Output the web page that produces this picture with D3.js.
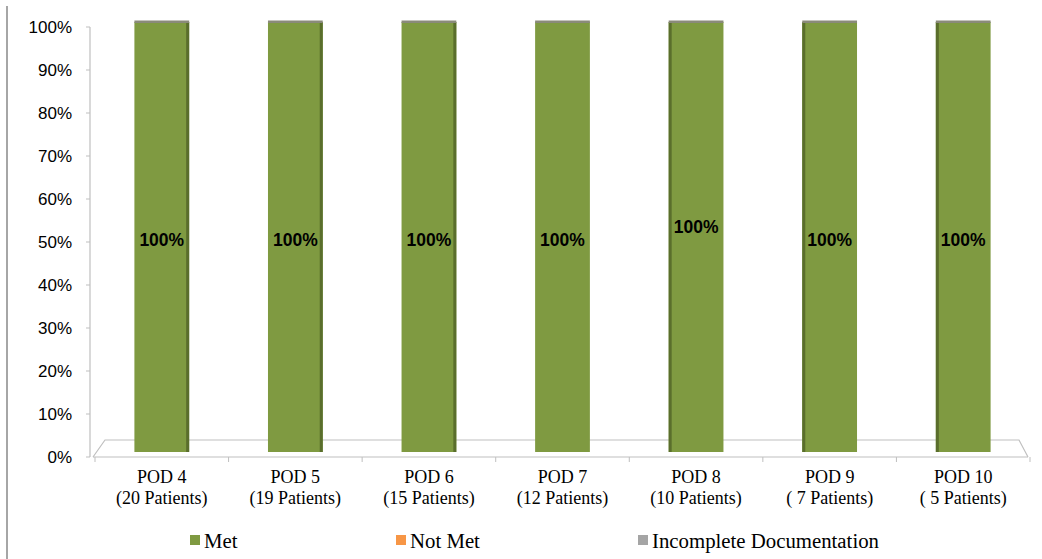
<!DOCTYPE html>
<html><head><meta charset="utf-8">
<script src="https://cdn.jsdelivr.net/npm/d3@7"></script>
<style>body{margin:0;background:#fff}svg{display:block}</style>
</head><body>
<svg id="c" width="1042" height="559"></svg>
<script>
const categories = ["POD 4","POD 5","POD 6","POD 7","POD 8","POD 9","POD 10"];
const patients = ["(20 Patients)","(19 Patients)","(15 Patients)","(12 Patients)","(10 Patients)","( 7 Patients)","( 5 Patients)"];
const met = [100,100,100,100,100,100,100];
const notMet = [0,0,0,0,0,0,0];
const incomplete = [0,0,0,0,0,0,0];
const yTicks = [0,10,20,30,40,50,60,70,80,90,100];
const seriesNames = ["Met","Not Met","Incomplete Documentation"];
const seriesColors = ["#7f9a41","#f79646","#a5a5a5"];

const svg = d3.select("#c");
const x = d3.scaleBand().domain(categories).range([95,1030]).paddingInner(0.59).paddingOuter(0.295);
const y = d3.scaleLinear().domain([0,100]).range([457,27]);
const depth = 5;

// page border line
svg.append("line").attr("x1",7).attr("x2",7).attr("y1",6).attr("y2",559).attr("stroke","#888").attr("stroke-width",1.5);

// floor
const fl = "#bfbfbf";
svg.append("path").attr("fill","none").attr("stroke",fl).attr("stroke-width",1.2)
  .attr("d",`M93,${y(0)} L105,${y(0)-17} L1019,${y(0)-17} L1028,${y(0)}`);
svg.append("line").attr("x1",93).attr("x2",1028).attr("y1",y(0)).attr("y2",y(0)).attr("stroke",fl).attr("stroke-width",1.2);

// y axis
svg.append("line").attr("x1",90).attr("x2",90).attr("y1",y(100)).attr("y2",y(0)).attr("stroke",fl).attr("stroke-width",1.2);
yTicks.forEach(t=>{
  svg.append("line").attr("x1",86).attr("x2",90).attr("y1",y(t)).attr("y2",y(t)).attr("stroke",fl);
  svg.append("text").attr("x",72).attr("y",y(t)).attr("dy","0.36em").attr("text-anchor","end")
    .attr("font-family","Liberation Sans, Arial").attr("font-size",17).attr("fill","#000").text(t+"%");
});
// x ticks
const step = x.step();
for(let i=0;i<=categories.length;i++){
  const xx = 95 + i*step;
  svg.append("line").attr("x1",xx).attr("x2",xx).attr("y1",y(0)).attr("y2",y(0)+5).attr("stroke",fl);
}

// bars
const mid = 562;
categories.forEach((c,i)=>{
  const bx = x(c), bw = x.bandwidth();
  const top = y(met[i]) - depth, bot = y(0) - depth;
  const g = svg.append("g");
  g.append("rect").attr("x",bx).attr("y",top).attr("width",bw).attr("height",bot-top).attr("fill",seriesColors[0]);
  const cx = bx + bw/2;
  const sideX = cx < mid - 80 ? bx+bw-3 : (cx > mid+80 ? bx : null);
  if(sideX!==null) g.append("rect").attr("x",sideX).attr("y",top).attr("width",3).attr("height",bot-top).attr("fill","#5a6e2c");
  g.append("rect").attr("x",bx).attr("y",top-1.5).attr("width",bw).attr("height",2.5).attr("fill","#8a8a7a");
  const nudge = i===4 ? -13 : 0;
  g.append("text").attr("x",cx).attr("y",y(50)-2+nudge).attr("dy","0.36em").attr("text-anchor","middle")
    .attr("font-family","Liberation Sans, Arial").attr("font-weight","bold").attr("font-size",17.5).attr("fill","#000")
    .text(met[i]+"%");
  svg.append("text").attr("x",cx).attr("y",483).attr("text-anchor","middle").attr("font-family","Liberation Serif, Times New Roman")
    .attr("font-size",18).text(c);
  svg.append("text").attr("x",cx).attr("y",504).attr("text-anchor","middle").attr("font-family","Liberation Serif, Times New Roman")
    .attr("font-size",18).text(patients[i]);
});

// legend
const legX = [190,396,638];
seriesNames.forEach((n,i)=>{
  svg.append("rect").attr("x",legX[i]).attr("y",535).attr("width",10).attr("height",10).attr("fill",seriesColors[i]);
  svg.append("text").attr("x",legX[i]+14).attr("y",548).attr("font-family","Liberation Serif, Times New Roman")
    .attr("font-size",20.8).text(n);
});
</script>
</body></html>
